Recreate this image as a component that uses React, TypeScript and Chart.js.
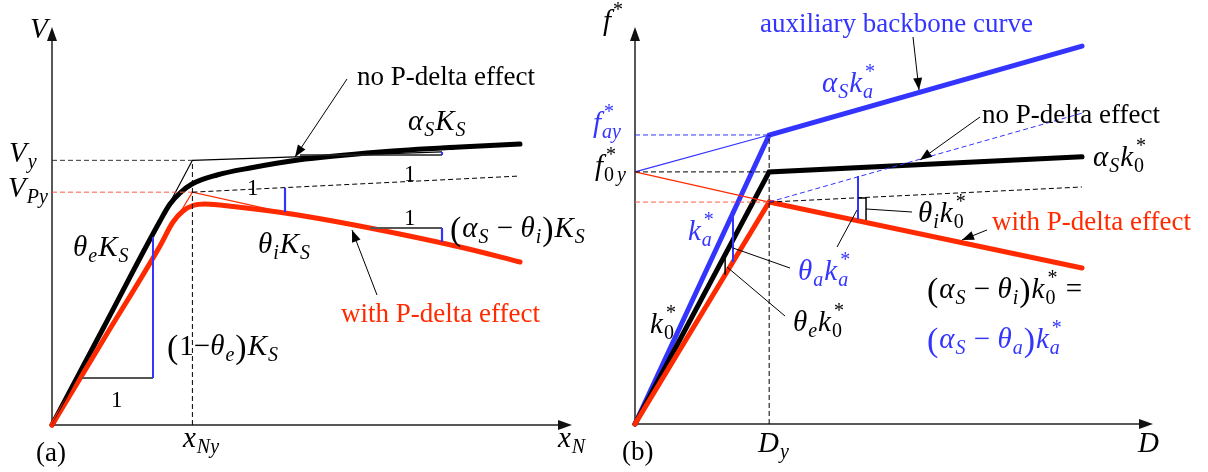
import React, { useEffect, useRef } from "react";
import { Chart, registerables } from "chart.js";

Chart.register(...registerables);

type P = [number, number];
type Seg = [string, string];

const RED = "#ff2a00";
const RED_DASH = "#ff5a48";
const BLUE = "#3434ff";
const BLACK = "#000000";
const GRAY = "#555555";
const FONT = '"Liberation Serif", "Times New Roman", serif';

// ---------------- Panel (a): V versus x_N (schematic units) ----------------
const A_XNY = 2.7;
const A_VY = 6.65;
const A_VPY = 5.85;
const aNoPDelta: P[] = [
  [0, 0], [1, 2.469], [2.077, 5.126], [2.269, 5.553], [2.462, 5.829], [2.692, 6.055],
  [3.173, 6.281], [3.808, 6.457], [4.731, 6.658], [6.308, 6.859], [7.846, 6.985], [9.0, 7.06],
];
const aWithPDelta: P[] = [
  [0, 0], [1, 2.169], [2.077, 4.5], [2.327, 5.1], [2.519, 5.377], [2.712, 5.515],
  [2.942, 5.553], [3.481, 5.49], [4.731, 5.276], [7.846, 4.472], [9.0, 4.095],
];
const aBilinearNo: P[] = [[0, 0], [A_XNY, A_VY], [7.5, 6.86]];
const aBilinearWith: P[] = [[0, 0], [A_XNY, A_VPY], [4.6, 5.3]];
const aAlphaDashed: P[] = [[A_XNY, A_VPY], [9.0, 6.256]];
const aVyDashed: P[] = [[0, A_VY], [A_XNY, A_VY]];
const aVPyDashed: P[] = [[0, A_VPY], [A_XNY, A_VPY]];
const aXNyDashed: P[] = [[A_XNY, 0], [A_XNY, A_VY]];
const aElasticRun: P[] = [[0.577, 1.181], [1.942, 1.181]];
const aElasticRise: P[] = [[1.942, 1.181], [1.942, 4.724]];
const aThetaIRise: P[] = [[4.481, 5.955], [4.481, 5.352]];
const aAlphaRun: P[] = [[4.769, 6.784], [7.5, 6.784]];
const aAlphaRise: P[] = [[7.5, 6.784], [7.5, 6.859]];
const aNetRun: P[] = [[6.115, 4.95], [7.5, 4.95]];
const aNetRise: P[] = [[7.5, 4.95], [7.5, 4.598]];

// ---------------- Panel (b): f* versus D ----------------
const B_DY = 2.59;
const B_FAY = 7.28;
const B_F0Y = 6.35;
const B_FPY = 5.59;
const bAuxiliary: P[] = [[0, 0], [B_DY, B_FAY], [8.63, 9.52]];
const bNoPDelta: P[] = [[0, 0], [B_DY, B_F0Y], [8.63, 6.73]];
const bWithPDelta: P[] = [[0, 0], [B_DY, B_FPY], [8.63, 3.93]];
const bAuxBack: P[] = [[0, B_F0Y], [B_DY, B_FAY]];
const bWithBack: P[] = [[0, B_F0Y], [B_DY, B_FPY]];
const bFayDashed: P[] = [[0, B_FAY], [B_DY, B_FAY]];
const bF0yDashed: P[] = [[0, B_F0Y], [B_DY, B_F0Y]];
const bFpyDashed: P[] = [[0, B_FPY], [B_DY, B_FPY]];
const bDyDashed: P[] = [[B_DY, 0], [B_DY, B_FAY]];
const bAlphaDashed: P[] = [[B_DY, B_FPY], [8.63, 5.97]];
const bAuxDashed: P[] = [[B_DY, B_FPY], [8.63, 7.83]];
const bThetaARiseL: P[] = [[1.892, 5.317], [1.892, 4.083]];
const bThetaERiseL: P[] = [[1.74, 4.27], [1.74, 3.76]];
const bThetaARiseR: P[] = [[4.305, 6.25], [4.305, 5.16]];
const bThetaIRiseR: P[] = [[4.305, 5.69], [4.46, 5.69], [4.46, 5.14]];

interface Label { x: number; y: number; segs: Seg[]; color?: string; }
interface Leader { from: P; to: P; arrow?: boolean; }

const aLabels: Label[] = [
  { x: -0.423, y: 9.72, segs: [["V", "i"]] },
  { x: -0.827, y: 6.61, segs: [["V", "i"], ["y", "b"]] },
  { x: -0.846, y: 5.73, segs: [["V", "i"], ["Py", "b"]] },
  { x: 2.519, y: -0.553, segs: [["x", "i"], ["Ny", "b"]] },
  { x: 9.73, y: -0.553, segs: [["x", "i"], ["N", "b"]] },
  { x: -0.308, y: -0.905, segs: [["(a)", "t"]] },
  { x: 0.404, y: 4.246, segs: [["θ", "i"], ["e", "b"], ["K", "i"], ["S", "b"]] },
  { x: 2.212, y: 1.759, segs: [["(", "R"], ["1", "r"], ["−", "r"], ["θ", "i"], ["e", "b"], [")", "R"], ["K", "i"], ["S", "b"]] },
  { x: 1.135, y: 0.452, segs: [["1", "n"]] },
  { x: 3.96, y: 4.32, segs: [["θ", "i"], ["i", "b"], ["K", "i"], ["S", "b"]] },
  { x: 3.75, y: 5.779, segs: [["1", "n"]] },
  { x: 6.77, y: 6.131, segs: [["1", "n"]] },
  { x: 6.77, y: 5.025, segs: [["1", "n"]] },
  { x: 6.846, y: 7.412, segs: [["α", "i"], ["S", "b"], ["K", "i"], ["S", "b"]] },
  { x: 7.654, y: 4.724, segs: [["(", "R"], ["α", "i"], ["S", "b"], [" − ", "r"], ["θ", "i"], ["i", "b"], [")", "R"], ["K", "i"], ["S", "b"]] },
  { x: 5.865, y: 8.543, segs: [["no P-delta effect", "t"]] },
  { x: 5.558, y: 2.588, segs: [["with P-delta effect", "t"]], color: RED },
];
const aLeaders: Leader[] = [
  { from: [5.673, 8.693], to: [4.673, 6.734], arrow: true },
  { from: [6.25, 3.266], to: [5.769, 4.899], arrow: true },
];

const bLabels: Label[] = [
  { x: -0.618, y: 9.924, segs: [["f", "i"], ["*", "p"]] },
  { x: -0.811, y: 7.355, segs: [["f", "i"], ["*|ay", "pb"]], color: BLUE },
  { x: -0.772, y: 6.272, segs: [["f", "i"], ["*|0", "pbr"], ["y", "b"]] },
  { x: 2.413, y: 9.874, segs: [["auxiliary backbone curve", "t"]], color: BLUE },
  { x: 3.61, y: 8.363, segs: [["α", "i"], ["S", "b"], ["k", "i"], ["*|a", "pb"]], color: BLUE },
  { x: 6.699, y: 7.582, segs: [["no P-delta effect", "t"]] },
  { x: 8.842, y: 6.499, segs: [["α", "i"], ["S", "b"], ["k", "i"], ["*|0", "pbr"]] },
  { x: 5.463, y: 5.088, segs: [["θ", "i"], ["i", "b"], ["k", "i"], ["*|0", "pbr"]] },
  { x: 6.892, y: 4.887, segs: [["with P-delta effect", "t"]], color: RED },
  { x: 1.023, y: 4.635, segs: [["k", "i"], ["*|a", "pb"]], color: BLUE },
  { x: 3.147, y: 3.627, segs: [["θ", "i"], ["a", "b"], ["k", "i"], ["*|a", "pb"]], color: BLUE },
  { x: 3.05, y: 2.343, segs: [["θ", "i"], ["e", "b"], ["k", "i"], ["*|0", "pbr"]] },
  { x: 0.29, y: 2.292, segs: [["k", "i"], ["*|0", "pbr"]] },
  { x: 2.375, y: -0.705, segs: [["D", "i"], ["y", "b"]] },
  { x: 9.71, y: -0.705, segs: [["D", "i"]] },
  { x: -0.251, y: -0.907, segs: [["(b)", "t"]] },
  { x: 5.637, y: 3.174, segs: [["(", "R"], ["α", "i"], ["S", "b"], [" − ", "r"], ["θ", "i"], ["i", "b"], [")", "R"], ["k", "i"], ["*|0", "pbr"], [" =", "r"]] },
  { x: 5.637, y: 1.914, segs: [["(", "R"], ["α", "i"], ["S", "b"], [" − ", "r"], ["θ", "i"], ["a", "b"], [")", "R"], ["k", "i"], ["*|a", "pb"]], color: BLUE },
];
const bLeaders: Leader[] = [
  { from: [5.367, 9.748], to: [5.483, 8.413], arrow: true },
  { from: [6.66, 7.733], to: [5.502, 6.65], arrow: true },
  { from: [6.795, 4.887], to: [6.313, 4.635], arrow: true },
  { from: [4.459, 5.416], to: [5.347, 5.34] },
  { from: [1.892, 4.433], to: [2.992, 3.929] },
  { from: [4.286, 5.39], to: [3.9, 4.458] },
  { from: [1.776, 3.955], to: [2.896, 2.72] },
];

function ds(points: P[], color: string, width: number, dash: number[] = [], cap: CanvasLineCap = "butt", curve = false) {
  return {
    data: points.map(([x, y]) => ({ x, y })),
    borderColor: color,
    backgroundColor: color,
    borderWidth: width,
    borderDash: dash,
    borderCapStyle: cap,
    borderJoinStyle: "miter" as CanvasLineJoin,
    showLine: true,
    pointRadius: 0,
    pointHoverRadius: 0,
    fill: false,
    clip: false as any,
    tension: 0,
    cubicInterpolationMode: curve ? ("monotone" as const) : ("default" as const),
  };
}

const DASH = [5, 3];

function put(ctx: CanvasRenderingContext2D, t: string, x: number, y: number, font: string) {
  ctx.font = font;
  ctx.fillText(t, x, y);
  return ctx.measureText(t).width;
}

function drawRich(ctx: CanvasRenderingContext2D, x: number, y: number, segs: Seg[], color: string) {
  ctx.fillStyle = color;
  ctx.textAlign = "left";
  ctx.textBaseline = "alphabetic";
  let cx = x;
  for (const [t, s] of segs) {
    if (s === "t") cx += put(ctx, t, cx, y, `27px ${FONT}`);
    else if (s === "n") cx += put(ctx, t, cx, y, `23px ${FONT}`);
    else if (s === "r") cx += put(ctx, t, cx, y, `29px ${FONT}`);
    else if (s === "R") cx += put(ctx, t, cx, y + 3, `34px ${FONT}`) + 1;
    else if (s === "i") cx += put(ctx, t, cx, y, `italic 29px ${FONT}`) + 1;
    else if (s === "b") cx += put(ctx, t, cx, y + 6, `italic 20px ${FONT}`) + 1;
    else if (s === "p") cx += put(ctx, t, cx + 1, y - 14, `20px ${FONT}`) + 1;
    else if (s === "pb" || s === "pbr") {
      const [sup, sub] = t.split("|");
      const w1 = put(ctx, sup, cx + 2, y - 14, `20px ${FONT}`);
      const w2 = put(ctx, sub, cx, y + 6, `${s === "pb" ? "italic " : ""}20px ${FONT}`);
      cx += Math.max(w1 + 2, w2) + 1;
    }
  }
}

function arrowHead(ctx: CanvasRenderingContext2D, fx: number, fy: number, tx: number, ty: number, len: number, half: number) {
  const a = Math.atan2(ty - fy, tx - fx);
  ctx.beginPath();
  ctx.moveTo(tx, ty);
  ctx.lineTo(tx - len * Math.cos(a) + half * Math.sin(a), ty - len * Math.sin(a) - half * Math.cos(a));
  ctx.lineTo(tx - len * Math.cos(a) - half * Math.sin(a), ty - len * Math.sin(a) + half * Math.cos(a));
  ctx.closePath();
  ctx.fill();
}

function overlay(id: string, labels: Label[], leaders: Leader[]) {
  return {
    id,
    beforeDatasetsDraw(chart: any) {
      const { ctx } = chart;
      const xs = chart.scales.x;
      const ys = chart.scales.y;
      const ox = xs.getPixelForValue(0);
      const oy = ys.getPixelForValue(0);
      const tx = xs.getPixelForValue(10);
      const ty = ys.getPixelForValue(10);
      ctx.save();
      ctx.strokeStyle = "#222";
      ctx.fillStyle = "#111";
      ctx.lineWidth = 1.5;
      ctx.beginPath();
      ctx.moveTo(ox, oy);
      ctx.lineTo(ox, ty + 8);
      ctx.moveTo(ox, oy);
      ctx.lineTo(tx - 8, oy);
      ctx.stroke();
      arrowHead(ctx, ox, oy, ox, ty, 14, 5);
      arrowHead(ctx, ox, oy, tx, oy, 14, 5);
      ctx.restore();
    },
    afterDatasetsDraw(chart: any) {
      const { ctx } = chart;
      const xs = chart.scales.x;
      const ys = chart.scales.y;
      const px = (p: P): [number, number] => [xs.getPixelForValue(p[0]), ys.getPixelForValue(p[1])];
      ctx.save();
      ctx.strokeStyle = "#000";
      ctx.fillStyle = "#000";
      ctx.lineWidth = 1;
      for (const l of leaders) {
        const [fx, fy] = px(l.from);
        const [tx, ty] = px(l.to);
        ctx.beginPath();
        ctx.moveTo(fx, fy);
        ctx.lineTo(tx, ty);
        ctx.stroke();
        if (l.arrow) arrowHead(ctx, fx, fy, tx, ty, 12, 4.5);
      }
      for (const lb of labels) {
        const [x, y] = px([lb.x, lb.y]);
        drawRich(ctx, x, y, lb.segs, lb.color || BLACK);
      }
      ctx.restore();
    },
  };
}

function makeChart(canvas: HTMLCanvasElement, datasets: any[], padding: any, plugin: any) {
  return new Chart(canvas, {
    type: "scatter",
    data: { datasets },
    options: {
      animation: false,
      responsive: false,
      maintainAspectRatio: false,
      devicePixelRatio: 1,
      events: [],
      layout: { padding },
      scales: {
        x: { type: "linear", min: 0, max: 10, display: false },
        y: { type: "linear", min: 0, max: 10, display: false },
      },
      plugins: { legend: { display: false }, tooltip: { enabled: false } },
    } as any,
    plugins: [plugin],
  });
}

export default function App() {
  const refA = useRef<HTMLCanvasElement>(null);
  const refB = useRef<HTMLCanvasElement>(null);

  useEffect(() => {
    // bottom-first list; reversed because Chart.js draws dataset 0 on top
    const aSets = [
      ds(aNoPDelta, BLACK, 5, [], "round", true),
      ds(aWithPDelta, RED, 5, [], "round", true),
      ds(aBilinearNo, BLACK, 1.2),
      ds(aBilinearWith, RED, 1.2),
      ds(aVyDashed, "#333", 1, DASH),
      ds(aVPyDashed, RED_DASH, 1, DASH),
      ds(aXNyDashed, "#000", 1, DASH),
      ds(aAlphaDashed, "#000", 1, DASH),
      ds(aElasticRun, GRAY, 2),
      ds(aElasticRise, BLUE, 2),
      ds(aThetaIRise, BLUE, 2.2),
      ds(aAlphaRun, "#222", 1.5),
      ds(aAlphaRise, BLUE, 2.2),
      ds(aNetRun, GRAY, 2),
      ds(aNetRise, BLUE, 2.2),
    ].reverse();
    const bSets = [
      ds(bAuxiliary, BLUE, 5, [], "round"),
      ds(bNoPDelta, BLACK, 5, [], "round"),
      ds(bWithPDelta, RED, 5, [], "round"),
      ds(bAuxBack, BLUE, 1.2),
      ds(bWithBack, RED, 1.2),
      ds(bFayDashed, BLUE, 1, DASH),
      ds(bF0yDashed, "#000", 1, DASH),
      ds(bFpyDashed, RED_DASH, 1, DASH),
      ds(bDyDashed, "#000", 1, DASH),
      ds(bAlphaDashed, "#000", 1, DASH),
      ds(bAuxDashed, BLUE, 1, DASH),
      ds(bThetaARiseL, BLUE, 2),
      ds(bThetaERiseL, BLACK, 1.5),
      ds(bThetaARiseR, BLUE, 2),
      ds(bThetaIRiseR, BLACK, 1.5),
    ].reverse();

    const ca = makeChart(refA.current!, aSets, { left: 52, right: 28, top: 27, bottom: 47 }, overlay("ovA", aLabels, aLeaders));
    const cb = makeChart(refB.current!, bSets, { left: 75, right: 55, top: 27, bottom: 48 }, overlay("ovB", bLabels, bLeaders));
    return () => {
      ca.destroy();
      cb.destroy();
    };
  }, []);

  return (
    <div style={{ position: "fixed", left: 0, top: 0, width: 1208, height: 472, background: "#fff", overflow: "hidden" }}>
      <canvas ref={refA} width={600} height={472} style={{ position: "absolute", left: 0, top: 0, width: 600, height: 472 }} />
      <canvas ref={refB} width={648} height={472} style={{ position: "absolute", left: 560, top: 0, width: 648, height: 472 }} />
    </div>
  );
}
